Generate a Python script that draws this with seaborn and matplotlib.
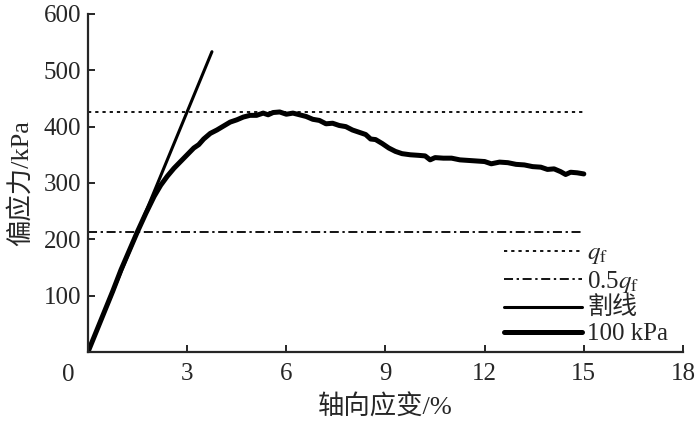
import matplotlib
matplotlib.use("Agg")
import matplotlib.pyplot as plt
import numpy as np
import pandas as pd
import seaborn as sns

# stress-strain curve at 100 kPa confining pressure
strain = [0.0, 0.25, 0.5, 0.75, 1.0, 1.25, 1.5, 1.75, 2.0, 2.2, 2.4, 2.6, 2.8, 3.0,
          3.2, 3.35, 3.5, 3.7, 3.9, 4.1, 4.3, 4.5, 4.7, 4.9, 5.1, 5.3, 5.45, 5.6,
          5.8, 6.0, 6.2, 6.4, 6.6, 6.8, 7.0, 7.2, 7.4, 7.6, 7.8, 8.0, 8.2, 8.4,
          8.55, 8.7, 8.9, 9.1, 9.3, 9.5, 9.75, 10.0, 10.2, 10.35, 10.5, 10.75,
          11.0, 11.25, 11.5, 11.75, 12.0, 12.2, 12.45, 12.7, 12.95, 13.2, 13.45,
          13.7, 13.9, 14.1, 14.3, 14.45, 14.6, 14.8, 15.0]
stress = [0, 36, 72, 108, 146, 180, 214, 246, 276, 296, 312, 326, 338, 350,
          362, 368, 378, 388, 394, 401, 408, 412, 417, 420, 420, 424, 421, 425,
          426, 422, 424, 421, 418, 413, 411, 405, 406, 402, 400, 394, 390, 386,
          378, 377, 370, 362, 356, 352, 350, 349, 348, 341, 345, 344,
          344, 341, 340, 339, 338, 334, 337, 336, 333, 332, 329,
          328, 324, 325, 320, 315, 319, 318, 316]

qf = 426
qf_x = [0, 15]
secant_x = [0, 3.75]
secant_y = [0, 533]

x_ticks = [0, 3, 6, 9, 12, 15, 18]
y_ticks = [0, 100, 200, 300, 400, 500, 600]

FS = 18

sns.set_style("ticks")
plt.rcParams["font.family"] = ["Liberation Serif", "Noto Sans CJK SC"]
plt.rcParams["mathtext.fontset"] = "stix"
plt.rcParams["axes.linewidth"] = 1.6

fig = plt.figure(figsize=(7, 4.23), dpi=100)
ax = fig.add_axes([0.1257, 0.168, 0.85, 0.799])

curve = pd.DataFrame({"strain": strain, "stress": stress})

sns.lineplot(x=qf_x, y=[qf, qf], ax=ax, color="black", linewidth=1.3,
             label=r"$q_\mathrm{f}$").lines[-1].set_dashes((1.8, 2.2))
sns.lineplot(x=qf_x, y=[qf / 2, qf / 2], ax=ax, color="black", linewidth=1.3,
             label=r"0.5$q_\mathrm{f}$").lines[-1].set_dashes((5, 2, 1.3, 2))
sns.lineplot(x=secant_x, y=secant_y, ax=ax, color="black", linewidth=2.2, label="割线")
sns.lineplot(data=curve, x="strain", y="stress", ax=ax, color="black",
             linewidth=3.6, label="100 kPa")

ax.set_xlim(0, 18)
ax.set_ylim(0, 600)
ax.set_xticks(x_ticks)
ax.set_xticklabels([""] + [str(t) for t in x_ticks[1:]])
ax.set_yticks(y_ticks)
ax.set_yticklabels([""] + [str(t) for t in y_ticks[1:]])
ax.tick_params(direction="in", length=5, width=1.4, labelsize=FS, pad=5)
ax.tick_params(axis="x", pad=8)
ax.text(-0.022, -0.035, "0", transform=ax.transAxes, ha="right", va="top", fontsize=FS)
sns.despine(ax=ax)

ax.set_xlabel("轴向应变/%", fontsize=19, labelpad=7)
ax.set_ylabel("偏应力/kPa", fontsize=19, labelpad=8)

ax.legend(loc="lower right", bbox_to_anchor=(1.0, -0.025), frameon=False, fontsize=FS,
          handlelength=3.1, handletextpad=0.2, labelspacing=0.1, borderaxespad=0.2)

fig.savefig("out.png", dpi=100)
